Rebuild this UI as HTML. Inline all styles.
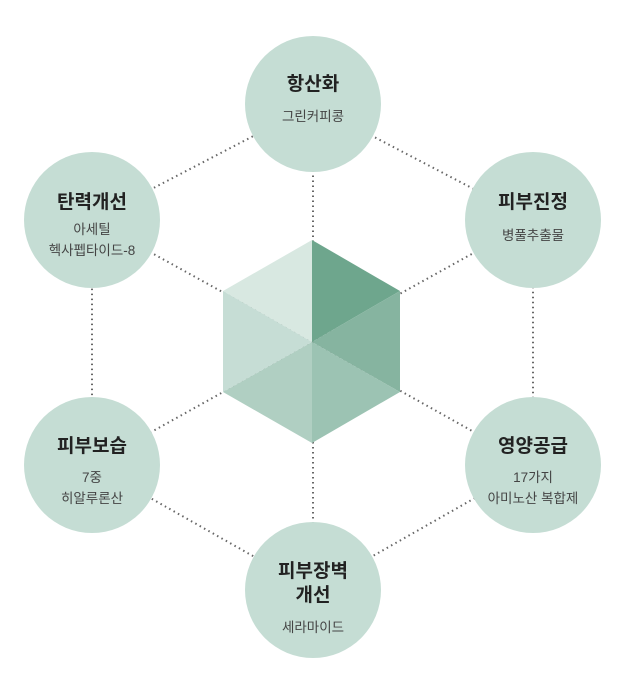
<!DOCTYPE html>
<html><head><meta charset="utf-8"><style>
body{margin:0;background:#fff;width:629px;height:695px;overflow:hidden}
text{font-family:"Liberation Sans","Noto Sans CJK KR",sans-serif;fill:#333;text-anchor:middle}
.t{font-size:19px;font-weight:bold;fill:#222}
.s{font-size:13.5px;fill:#444}
</style></head><body>
<svg width="629" height="695" viewBox="0 0 629 695">
<g stroke="#666" stroke-width="2" stroke-dasharray="1.5 3.5" fill="none">
<polygon points="313,105 533,220 533,465 313,590 92,465 92,220"/>
<line x1="313" y1="342" x2="313" y2="105"/>
<line x1="313" y1="342" x2="313" y2="590"/>
<line x1="313" y1="342" x2="92" y2="220"/>
<line x1="313" y1="342" x2="533" y2="220"/>
<line x1="313" y1="342" x2="92" y2="465"/>
<line x1="313" y1="342" x2="533" y2="465"/>
</g>
<polygon points="312,342 312,240 223,291" fill="#d8e8e1"/>
<polygon points="312,342 312,240 400,291" fill="#6ea68d"/>
<polygon points="312,342 400,291 400,392" fill="#86b4a0"/>
<polygon points="312,342 400,392 312,443" fill="#9cc3b3"/>
<polygon points="312,342 312,443 223,392" fill="#b0cfc2"/>
<polygon points="312,342 223,392 223,291" fill="#c6ddd5"/>
<g fill="#c5ddd4">
<circle cx="313" cy="104" r="68"/>
<circle cx="92" cy="220" r="68"/>
<circle cx="533" cy="220" r="68"/>
<circle cx="92" cy="465" r="68"/>
<circle cx="533" cy="465" r="68"/>
<circle cx="313" cy="590" r="68"/>
</g>
<text class="t" x="313" y="90">항산화</text>
<text class="s" x="313" y="121">그린커피콩</text>
<text class="t" x="92" y="208">탄력개선</text>
<text class="s" x="92" y="234">아세틸</text>
<text class="s" x="92" y="255">헥사펩타이드-8</text>
<text class="t" x="533" y="208">피부진정</text>
<text class="s" x="533" y="240">병풀추출물</text>
<text class="t" x="92" y="452">피부보습</text>
<text class="s" x="92" y="482">7중</text>
<text class="s" x="92" y="503">히알루론산</text>
<text class="t" x="533" y="452">영양공급</text>
<text class="s" x="533" y="482">17가지</text>
<text class="s" x="533" y="503">아미노산 복합제</text>
<text class="t" x="313" y="577">피부장벽</text>
<text class="t" x="313" y="601">개선</text>
<text class="s" x="313" y="632">세라마이드</text>
</svg>
</body></html>
